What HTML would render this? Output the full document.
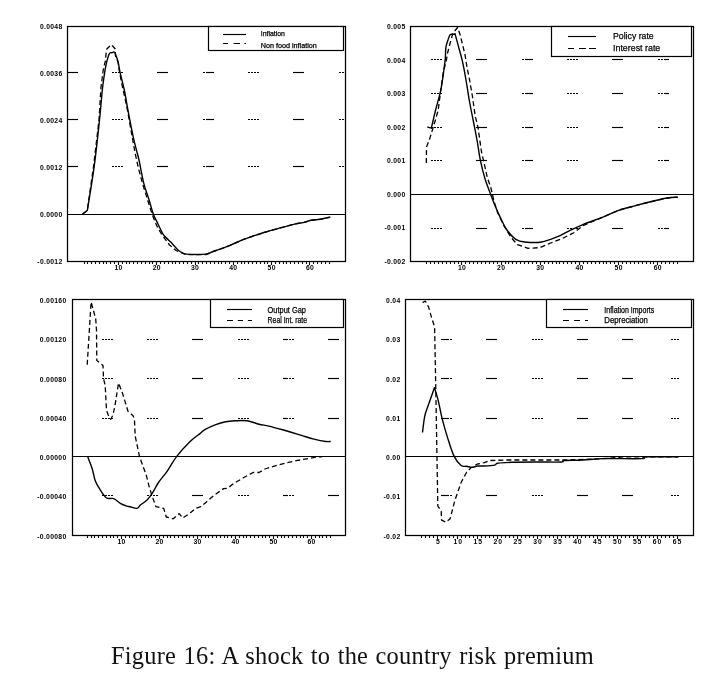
<!DOCTYPE html>
<html><head><meta charset="utf-8"><style>
html,body{margin:0;padding:0;background:#fff;}
body{width:712px;height:694px;overflow:hidden;position:relative;}
svg{position:absolute;left:0;top:0;will-change:transform;}
svg line, svg rect, svg polyline, svg path{stroke:#000;}
text{font-family:"Liberation Sans",sans-serif;fill:#000;stroke:none;}
.ax{font-weight:bold;letter-spacing:0.3px;}
.ax4{font-weight:bold;letter-spacing:0.9px;}
.lg{stroke:#000;stroke-width:0.25px;}
.cap{position:absolute;left:111.2px;top:643px;font-family:"Liberation Serif",serif;font-size:24.4px;letter-spacing:0.25px;word-spacing:1px;color:#111;white-space:nowrap;line-height:26px;will-change:transform;}
</style></head><body>
<svg width="712" height="694" viewBox="0 0 712 694" shape-rendering="geometricPrecision">
<rect x="67.5" y="26.5" width="278" height="235" fill="none" stroke-width="1.25"/>
<line x1="67.5" y1="214.5" x2="345.5" y2="214.5" stroke-width="1.1"/>
<line x1="67.5" y1="72.5" x2="78" y2="72.5" stroke-width="1.15"/>
<line x1="112" y1="72.5" x2="114" y2="72.5" stroke-width="1.15"/>
<line x1="115" y1="72.5" x2="117" y2="72.5" stroke-width="1.15"/>
<line x1="118" y1="72.5" x2="120" y2="72.5" stroke-width="1.15"/>
<line x1="121" y1="72.5" x2="123" y2="72.5" stroke-width="1.15"/>
<line x1="157" y1="72.5" x2="168" y2="72.5" stroke-width="1.15"/>
<line x1="203" y1="72.5" x2="205" y2="72.5" stroke-width="1.15"/>
<line x1="206" y1="72.5" x2="214" y2="72.5" stroke-width="1.15"/>
<line x1="248" y1="72.5" x2="250" y2="72.5" stroke-width="1.15"/>
<line x1="251" y1="72.5" x2="253" y2="72.5" stroke-width="1.15"/>
<line x1="254" y1="72.5" x2="256" y2="72.5" stroke-width="1.15"/>
<line x1="257" y1="72.5" x2="259" y2="72.5" stroke-width="1.15"/>
<line x1="293" y1="72.5" x2="304" y2="72.5" stroke-width="1.15"/>
<line x1="339" y1="72.5" x2="341" y2="72.5" stroke-width="1.15"/>
<line x1="342" y1="72.5" x2="344" y2="72.5" stroke-width="1.15"/>
<line x1="67.5" y1="119.5" x2="78" y2="119.5" stroke-width="1.15"/>
<line x1="112" y1="119.5" x2="114" y2="119.5" stroke-width="1.15"/>
<line x1="115" y1="119.5" x2="117" y2="119.5" stroke-width="1.15"/>
<line x1="118" y1="119.5" x2="120" y2="119.5" stroke-width="1.15"/>
<line x1="121" y1="119.5" x2="123" y2="119.5" stroke-width="1.15"/>
<line x1="157" y1="119.5" x2="168" y2="119.5" stroke-width="1.15"/>
<line x1="203" y1="119.5" x2="205" y2="119.5" stroke-width="1.15"/>
<line x1="206" y1="119.5" x2="214" y2="119.5" stroke-width="1.15"/>
<line x1="248" y1="119.5" x2="250" y2="119.5" stroke-width="1.15"/>
<line x1="251" y1="119.5" x2="253" y2="119.5" stroke-width="1.15"/>
<line x1="254" y1="119.5" x2="256" y2="119.5" stroke-width="1.15"/>
<line x1="257" y1="119.5" x2="259" y2="119.5" stroke-width="1.15"/>
<line x1="293" y1="119.5" x2="304" y2="119.5" stroke-width="1.15"/>
<line x1="339" y1="119.5" x2="341" y2="119.5" stroke-width="1.15"/>
<line x1="342" y1="119.5" x2="344" y2="119.5" stroke-width="1.15"/>
<line x1="67.5" y1="166.5" x2="78" y2="166.5" stroke-width="1.15"/>
<line x1="112" y1="166.5" x2="114" y2="166.5" stroke-width="1.15"/>
<line x1="115" y1="166.5" x2="117" y2="166.5" stroke-width="1.15"/>
<line x1="118" y1="166.5" x2="120" y2="166.5" stroke-width="1.15"/>
<line x1="121" y1="166.5" x2="123" y2="166.5" stroke-width="1.15"/>
<line x1="157" y1="166.5" x2="168" y2="166.5" stroke-width="1.15"/>
<line x1="203" y1="166.5" x2="205" y2="166.5" stroke-width="1.15"/>
<line x1="206" y1="166.5" x2="214" y2="166.5" stroke-width="1.15"/>
<line x1="248" y1="166.5" x2="250" y2="166.5" stroke-width="1.15"/>
<line x1="251" y1="166.5" x2="253" y2="166.5" stroke-width="1.15"/>
<line x1="254" y1="166.5" x2="256" y2="166.5" stroke-width="1.15"/>
<line x1="257" y1="166.5" x2="259" y2="166.5" stroke-width="1.15"/>
<line x1="293" y1="166.5" x2="304" y2="166.5" stroke-width="1.15"/>
<line x1="339" y1="166.5" x2="341" y2="166.5" stroke-width="1.15"/>
<line x1="342" y1="166.5" x2="344" y2="166.5" stroke-width="1.15"/>
<text x="62.5" y="29" font-size="6.8" text-anchor="end" class="ax">0.0048</text>
<text x="62.5" y="75.95" font-size="6.8" text-anchor="end" class="ax">0.0036</text>
<text x="62.5" y="122.9" font-size="6.8" text-anchor="end" class="ax">0.0024</text>
<text x="62.5" y="169.85" font-size="6.8" text-anchor="end" class="ax">0.0012</text>
<text x="62.5" y="216.8" font-size="6.8" text-anchor="end" class="ax">0.0000</text>
<text x="62.5" y="263.75" font-size="6.8" text-anchor="end" class="ax">-0.0012</text>
<line x1="84.5" y1="262.1" x2="84.5" y2="264" stroke-width="1.1"/>
<line x1="87.5" y1="262.1" x2="87.5" y2="264" stroke-width="1.1"/>
<line x1="91.5" y1="262.1" x2="91.5" y2="264" stroke-width="1.1"/>
<line x1="95.5" y1="262.1" x2="95.5" y2="264" stroke-width="1.1"/>
<line x1="99.5" y1="262.1" x2="99.5" y2="264" stroke-width="1.1"/>
<line x1="103.5" y1="262.1" x2="103.5" y2="264" stroke-width="1.1"/>
<line x1="106.5" y1="262.1" x2="106.5" y2="264" stroke-width="1.1"/>
<line x1="110.5" y1="262.1" x2="110.5" y2="264" stroke-width="1.1"/>
<line x1="114.5" y1="262.1" x2="114.5" y2="264" stroke-width="1.1"/>
<line x1="118.5" y1="262.1" x2="118.5" y2="265" stroke-width="1.1"/>
<line x1="122.5" y1="262.1" x2="122.5" y2="264" stroke-width="1.1"/>
<line x1="126.5" y1="262.1" x2="126.5" y2="264" stroke-width="1.1"/>
<line x1="129.5" y1="262.1" x2="129.5" y2="264" stroke-width="1.1"/>
<line x1="133.5" y1="262.1" x2="133.5" y2="264" stroke-width="1.1"/>
<line x1="137.5" y1="262.1" x2="137.5" y2="264" stroke-width="1.1"/>
<line x1="141.5" y1="262.1" x2="141.5" y2="264" stroke-width="1.1"/>
<line x1="145.5" y1="262.1" x2="145.5" y2="264" stroke-width="1.1"/>
<line x1="149.5" y1="262.1" x2="149.5" y2="264" stroke-width="1.1"/>
<line x1="152.5" y1="262.1" x2="152.5" y2="264" stroke-width="1.1"/>
<line x1="156.5" y1="262.1" x2="156.5" y2="265" stroke-width="1.1"/>
<line x1="160.5" y1="262.1" x2="160.5" y2="264" stroke-width="1.1"/>
<line x1="164.5" y1="262.1" x2="164.5" y2="264" stroke-width="1.1"/>
<line x1="168.5" y1="262.1" x2="168.5" y2="264" stroke-width="1.1"/>
<line x1="172.5" y1="262.1" x2="172.5" y2="264" stroke-width="1.1"/>
<line x1="175.5" y1="262.1" x2="175.5" y2="264" stroke-width="1.1"/>
<line x1="179.5" y1="262.1" x2="179.5" y2="264" stroke-width="1.1"/>
<line x1="183.5" y1="262.1" x2="183.5" y2="264" stroke-width="1.1"/>
<line x1="187.5" y1="262.1" x2="187.5" y2="264" stroke-width="1.1"/>
<line x1="191.5" y1="262.1" x2="191.5" y2="264" stroke-width="1.1"/>
<line x1="195.5" y1="262.1" x2="195.5" y2="265" stroke-width="1.1"/>
<line x1="198.5" y1="262.1" x2="198.5" y2="264" stroke-width="1.1"/>
<line x1="202.5" y1="262.1" x2="202.5" y2="264" stroke-width="1.1"/>
<line x1="206.5" y1="262.1" x2="206.5" y2="264" stroke-width="1.1"/>
<line x1="210.5" y1="262.1" x2="210.5" y2="264" stroke-width="1.1"/>
<line x1="214.5" y1="262.1" x2="214.5" y2="264" stroke-width="1.1"/>
<line x1="218.5" y1="262.1" x2="218.5" y2="264" stroke-width="1.1"/>
<line x1="221.5" y1="262.1" x2="221.5" y2="264" stroke-width="1.1"/>
<line x1="225.5" y1="262.1" x2="225.5" y2="264" stroke-width="1.1"/>
<line x1="229.5" y1="262.1" x2="229.5" y2="264" stroke-width="1.1"/>
<line x1="233.5" y1="262.1" x2="233.5" y2="265" stroke-width="1.1"/>
<line x1="237.5" y1="262.1" x2="237.5" y2="264" stroke-width="1.1"/>
<line x1="241.5" y1="262.1" x2="241.5" y2="264" stroke-width="1.1"/>
<line x1="244.5" y1="262.1" x2="244.5" y2="264" stroke-width="1.1"/>
<line x1="248.5" y1="262.1" x2="248.5" y2="264" stroke-width="1.1"/>
<line x1="252.5" y1="262.1" x2="252.5" y2="264" stroke-width="1.1"/>
<line x1="256.5" y1="262.1" x2="256.5" y2="264" stroke-width="1.1"/>
<line x1="260.5" y1="262.1" x2="260.5" y2="264" stroke-width="1.1"/>
<line x1="264.5" y1="262.1" x2="264.5" y2="264" stroke-width="1.1"/>
<line x1="267.5" y1="262.1" x2="267.5" y2="264" stroke-width="1.1"/>
<line x1="271.5" y1="262.1" x2="271.5" y2="265" stroke-width="1.1"/>
<line x1="275.5" y1="262.1" x2="275.5" y2="264" stroke-width="1.1"/>
<line x1="279.5" y1="262.1" x2="279.5" y2="264" stroke-width="1.1"/>
<line x1="283.5" y1="262.1" x2="283.5" y2="264" stroke-width="1.1"/>
<line x1="286.5" y1="262.1" x2="286.5" y2="264" stroke-width="1.1"/>
<line x1="290.5" y1="262.1" x2="290.5" y2="264" stroke-width="1.1"/>
<line x1="294.5" y1="262.1" x2="294.5" y2="264" stroke-width="1.1"/>
<line x1="298.5" y1="262.1" x2="298.5" y2="264" stroke-width="1.1"/>
<line x1="302.5" y1="262.1" x2="302.5" y2="264" stroke-width="1.1"/>
<line x1="306.5" y1="262.1" x2="306.5" y2="264" stroke-width="1.1"/>
<line x1="309.5" y1="262.1" x2="309.5" y2="265" stroke-width="1.1"/>
<line x1="313.5" y1="262.1" x2="313.5" y2="264" stroke-width="1.1"/>
<line x1="317.5" y1="262.1" x2="317.5" y2="264" stroke-width="1.1"/>
<line x1="321.5" y1="262.1" x2="321.5" y2="264" stroke-width="1.1"/>
<line x1="325.5" y1="262.1" x2="325.5" y2="264" stroke-width="1.1"/>
<line x1="329.5" y1="262.1" x2="329.5" y2="264" stroke-width="1.1"/>
<text x="118.47" y="270.2" font-size="6.8" text-anchor="middle" class="ax">10</text>
<text x="156.77" y="270.2" font-size="6.8" text-anchor="middle" class="ax">20</text>
<text x="195.07" y="270.2" font-size="6.8" text-anchor="middle" class="ax">30</text>
<text x="233.37" y="270.2" font-size="6.8" text-anchor="middle" class="ax">40</text>
<text x="271.67" y="270.2" font-size="6.8" text-anchor="middle" class="ax">50</text>
<text x="309.97" y="270.2" font-size="6.8" text-anchor="middle" class="ax">60</text>
<path d="M82.6,214 C83.38,213.42 86.52,211.08 87.3,210.5 C88.45,203.15 92.17,181.48 94.2,166.4 C96.23,151.32 98.15,132.73 99.5,120 C100.85,107.27 101.55,97.17 102.3,90 C103.05,82.83 103.38,81.17 104,77 C104.62,72.83 105.12,68.87 106,65 C106.88,61.13 108.3,55.85 109.3,53.8 C110.3,51.75 111.15,52.95 112,52.7 C112.85,52.45 113.65,51.58 114.4,52.3 C115.15,53.02 115.85,55.27 116.5,57 C117.15,58.73 117.72,60.17 118.3,62.7 C118.88,65.23 119,67.65 120,72.2 C121,76.75 123.13,84.53 124.3,90 C125.47,95.47 126.08,100 127,105 C127.92,110 128.75,114.62 129.8,120 C130.85,125.38 132.15,132.12 133.3,137.3 C134.45,142.48 135.75,147.32 136.7,151.1 C137.65,154.88 137.82,154.62 139,160 C140.18,165.38 142.12,176.73 143.8,183.4 C145.48,190.07 147.52,194.9 149.1,200 C150.68,205.1 151.82,210 153.3,214 C154.78,218 156.35,220.6 158,224 C159.65,227.4 161.53,231.82 163.2,234.4 C164.87,236.98 166.45,237.9 168,239.5 C169.55,241.1 170.92,242.35 172.5,244 C174.08,245.65 176.08,248.07 177.5,249.4 C178.92,250.73 179.53,251.22 181,252 C182.47,252.78 182.13,253.75 186.3,254.1 C190.47,254.45 201.55,254.57 206,254.1 C210.45,253.63 210.77,252.08 213,251.3 C215.23,250.52 216.57,250.38 219.4,249.4 C222.23,248.42 226.08,247.02 230,245.4 C233.92,243.78 238.87,241.32 242.9,239.7 C246.93,238.08 250.7,236.9 254.2,235.7 C257.7,234.5 259.85,233.72 263.9,232.5 C267.95,231.28 273.38,229.8 278.5,228.4 C283.62,227 290.3,225.1 294.6,224.1 C298.9,223.1 301.6,223.03 304.3,222.4 C307,221.77 308.1,220.83 310.8,220.3 C313.5,219.77 317.27,219.73 320.5,219.2 C323.73,218.67 328.58,217.45 330.2,217.1" fill="none" stroke-width="1.4" stroke-linejoin="round"/>
<path d="M82.6,214 L87.3,210.5 L93.6,166 L99,120 L101,87 L102.3,77 L103.2,70 L105.4,61 L106.2,52 L106.8,49 L109.3,46.5 L111,44.6 L113.1,46.5 L115.3,49 L115.5,56 L118,62 L119.5,72 L122.7,88 L126.5,105 L129.2,120 L133.8,146 L135.2,153.4 L138.4,168.3 L143,185 L152,214 L155.4,222.5 L157.6,227.4 L161.8,234.4 L169.5,245 L176,250.5 L186.3,254.6 L206,254.6 L213,251.6 L219.4,249.4 L230,245.4 L242.9,239.7 L254.2,235.7 L263.9,232.5 L278.5,228.4 L294.6,224.1 L304.3,222.4 L310.8,220.3 L320.5,219.2 L330.2,217.1" fill="none" stroke-width="1.3" stroke-linejoin="round" stroke-dasharray="5 3"/>
<rect x="208.5" y="26.5" width="135" height="24" fill="#fff" stroke-width="1.2"/>
<line x1="223" y1="34.5" x2="246" y2="34.5" stroke-width="1.15"/>
<line x1="223" y1="43.5" x2="246" y2="43.5" stroke-width="1.15" stroke-dasharray="5 5.5 6.5 4.5 2 10"/>
<text x="260.8" y="36.2" font-size="6.9" text-anchor="start" class="lg" textLength="24" lengthAdjust="spacingAndGlyphs">Inflation</text>
<text x="260.8" y="47.8" font-size="6.9" text-anchor="start" class="lg" textLength="56" lengthAdjust="spacingAndGlyphs">Non food inflation</text>
<rect x="410.5" y="26.5" width="283" height="235" fill="none" stroke-width="1.25"/>
<line x1="410.5" y1="194.5" x2="693.5" y2="194.5" stroke-width="1.1"/>
<line x1="431" y1="59.5" x2="433" y2="59.5" stroke-width="1.15"/>
<line x1="434" y1="59.5" x2="436" y2="59.5" stroke-width="1.15"/>
<line x1="437" y1="59.5" x2="439" y2="59.5" stroke-width="1.15"/>
<line x1="440" y1="59.5" x2="442" y2="59.5" stroke-width="1.15"/>
<line x1="476" y1="59.5" x2="487" y2="59.5" stroke-width="1.15"/>
<line x1="522" y1="59.5" x2="524" y2="59.5" stroke-width="1.15"/>
<line x1="525" y1="59.5" x2="533" y2="59.5" stroke-width="1.15"/>
<line x1="567" y1="59.5" x2="569" y2="59.5" stroke-width="1.15"/>
<line x1="570" y1="59.5" x2="572" y2="59.5" stroke-width="1.15"/>
<line x1="573" y1="59.5" x2="575" y2="59.5" stroke-width="1.15"/>
<line x1="576" y1="59.5" x2="578" y2="59.5" stroke-width="1.15"/>
<line x1="612" y1="59.5" x2="623" y2="59.5" stroke-width="1.15"/>
<line x1="658" y1="59.5" x2="660" y2="59.5" stroke-width="1.15"/>
<line x1="661" y1="59.5" x2="663" y2="59.5" stroke-width="1.15"/>
<line x1="664" y1="59.5" x2="669" y2="59.5" stroke-width="1.15"/>
<line x1="431" y1="93.5" x2="433" y2="93.5" stroke-width="1.15"/>
<line x1="434" y1="93.5" x2="436" y2="93.5" stroke-width="1.15"/>
<line x1="437" y1="93.5" x2="439" y2="93.5" stroke-width="1.15"/>
<line x1="440" y1="93.5" x2="442" y2="93.5" stroke-width="1.15"/>
<line x1="476" y1="93.5" x2="487" y2="93.5" stroke-width="1.15"/>
<line x1="522" y1="93.5" x2="524" y2="93.5" stroke-width="1.15"/>
<line x1="525" y1="93.5" x2="533" y2="93.5" stroke-width="1.15"/>
<line x1="567" y1="93.5" x2="569" y2="93.5" stroke-width="1.15"/>
<line x1="570" y1="93.5" x2="572" y2="93.5" stroke-width="1.15"/>
<line x1="573" y1="93.5" x2="575" y2="93.5" stroke-width="1.15"/>
<line x1="576" y1="93.5" x2="578" y2="93.5" stroke-width="1.15"/>
<line x1="612" y1="93.5" x2="623" y2="93.5" stroke-width="1.15"/>
<line x1="658" y1="93.5" x2="660" y2="93.5" stroke-width="1.15"/>
<line x1="661" y1="93.5" x2="663" y2="93.5" stroke-width="1.15"/>
<line x1="664" y1="93.5" x2="669" y2="93.5" stroke-width="1.15"/>
<line x1="431" y1="127.5" x2="433" y2="127.5" stroke-width="1.15"/>
<line x1="434" y1="127.5" x2="436" y2="127.5" stroke-width="1.15"/>
<line x1="437" y1="127.5" x2="439" y2="127.5" stroke-width="1.15"/>
<line x1="440" y1="127.5" x2="442" y2="127.5" stroke-width="1.15"/>
<line x1="476" y1="127.5" x2="487" y2="127.5" stroke-width="1.15"/>
<line x1="522" y1="127.5" x2="524" y2="127.5" stroke-width="1.15"/>
<line x1="525" y1="127.5" x2="533" y2="127.5" stroke-width="1.15"/>
<line x1="567" y1="127.5" x2="569" y2="127.5" stroke-width="1.15"/>
<line x1="570" y1="127.5" x2="572" y2="127.5" stroke-width="1.15"/>
<line x1="573" y1="127.5" x2="575" y2="127.5" stroke-width="1.15"/>
<line x1="576" y1="127.5" x2="578" y2="127.5" stroke-width="1.15"/>
<line x1="612" y1="127.5" x2="623" y2="127.5" stroke-width="1.15"/>
<line x1="658" y1="127.5" x2="660" y2="127.5" stroke-width="1.15"/>
<line x1="661" y1="127.5" x2="663" y2="127.5" stroke-width="1.15"/>
<line x1="664" y1="127.5" x2="669" y2="127.5" stroke-width="1.15"/>
<line x1="431" y1="160.5" x2="433" y2="160.5" stroke-width="1.15"/>
<line x1="434" y1="160.5" x2="436" y2="160.5" stroke-width="1.15"/>
<line x1="437" y1="160.5" x2="439" y2="160.5" stroke-width="1.15"/>
<line x1="440" y1="160.5" x2="442" y2="160.5" stroke-width="1.15"/>
<line x1="476" y1="160.5" x2="487" y2="160.5" stroke-width="1.15"/>
<line x1="522" y1="160.5" x2="524" y2="160.5" stroke-width="1.15"/>
<line x1="525" y1="160.5" x2="533" y2="160.5" stroke-width="1.15"/>
<line x1="567" y1="160.5" x2="569" y2="160.5" stroke-width="1.15"/>
<line x1="570" y1="160.5" x2="572" y2="160.5" stroke-width="1.15"/>
<line x1="573" y1="160.5" x2="575" y2="160.5" stroke-width="1.15"/>
<line x1="576" y1="160.5" x2="578" y2="160.5" stroke-width="1.15"/>
<line x1="612" y1="160.5" x2="623" y2="160.5" stroke-width="1.15"/>
<line x1="658" y1="160.5" x2="660" y2="160.5" stroke-width="1.15"/>
<line x1="661" y1="160.5" x2="663" y2="160.5" stroke-width="1.15"/>
<line x1="664" y1="160.5" x2="669" y2="160.5" stroke-width="1.15"/>
<line x1="431" y1="228.5" x2="433" y2="228.5" stroke-width="1.15"/>
<line x1="434" y1="228.5" x2="436" y2="228.5" stroke-width="1.15"/>
<line x1="437" y1="228.5" x2="439" y2="228.5" stroke-width="1.15"/>
<line x1="440" y1="228.5" x2="442" y2="228.5" stroke-width="1.15"/>
<line x1="476" y1="228.5" x2="487" y2="228.5" stroke-width="1.15"/>
<line x1="522" y1="228.5" x2="524" y2="228.5" stroke-width="1.15"/>
<line x1="525" y1="228.5" x2="533" y2="228.5" stroke-width="1.15"/>
<line x1="567" y1="228.5" x2="569" y2="228.5" stroke-width="1.15"/>
<line x1="570" y1="228.5" x2="572" y2="228.5" stroke-width="1.15"/>
<line x1="573" y1="228.5" x2="575" y2="228.5" stroke-width="1.15"/>
<line x1="576" y1="228.5" x2="578" y2="228.5" stroke-width="1.15"/>
<line x1="612" y1="228.5" x2="623" y2="228.5" stroke-width="1.15"/>
<line x1="658" y1="228.5" x2="660" y2="228.5" stroke-width="1.15"/>
<line x1="661" y1="228.5" x2="663" y2="228.5" stroke-width="1.15"/>
<line x1="664" y1="228.5" x2="669" y2="228.5" stroke-width="1.15"/>
<text x="405.5" y="29.25" font-size="6.8" text-anchor="end" class="ax">0.005</text>
<text x="405.5" y="62.78" font-size="6.8" text-anchor="end" class="ax">0.004</text>
<text x="405.5" y="96.31" font-size="6.8" text-anchor="end" class="ax">0.003</text>
<text x="405.5" y="129.84" font-size="6.8" text-anchor="end" class="ax">0.002</text>
<text x="405.5" y="163.37" font-size="6.8" text-anchor="end" class="ax">0.001</text>
<text x="405.5" y="196.9" font-size="6.8" text-anchor="end" class="ax">0.000</text>
<text x="405.5" y="230.43" font-size="6.8" text-anchor="end" class="ax">-0.001</text>
<text x="405.5" y="263.96" font-size="6.8" text-anchor="end" class="ax">-0.002</text>
<line x1="426.5" y1="262.1" x2="426.5" y2="264" stroke-width="1.1"/>
<line x1="430.5" y1="262.1" x2="430.5" y2="264" stroke-width="1.1"/>
<line x1="434.5" y1="262.1" x2="434.5" y2="264" stroke-width="1.1"/>
<line x1="438.5" y1="262.1" x2="438.5" y2="264" stroke-width="1.1"/>
<line x1="442.5" y1="262.1" x2="442.5" y2="264" stroke-width="1.1"/>
<line x1="446.5" y1="262.1" x2="446.5" y2="264" stroke-width="1.1"/>
<line x1="450.5" y1="262.1" x2="450.5" y2="264" stroke-width="1.1"/>
<line x1="454.5" y1="262.1" x2="454.5" y2="264" stroke-width="1.1"/>
<line x1="458.5" y1="262.1" x2="458.5" y2="264" stroke-width="1.1"/>
<line x1="461.5" y1="262.1" x2="461.5" y2="265" stroke-width="1.1"/>
<line x1="465.5" y1="262.1" x2="465.5" y2="264" stroke-width="1.1"/>
<line x1="469.5" y1="262.1" x2="469.5" y2="264" stroke-width="1.1"/>
<line x1="473.5" y1="262.1" x2="473.5" y2="264" stroke-width="1.1"/>
<line x1="477.5" y1="262.1" x2="477.5" y2="264" stroke-width="1.1"/>
<line x1="481.5" y1="262.1" x2="481.5" y2="264" stroke-width="1.1"/>
<line x1="485.5" y1="262.1" x2="485.5" y2="264" stroke-width="1.1"/>
<line x1="489.5" y1="262.1" x2="489.5" y2="264" stroke-width="1.1"/>
<line x1="493.5" y1="262.1" x2="493.5" y2="264" stroke-width="1.1"/>
<line x1="497.5" y1="262.1" x2="497.5" y2="264" stroke-width="1.1"/>
<line x1="501.5" y1="262.1" x2="501.5" y2="265" stroke-width="1.1"/>
<line x1="505.5" y1="262.1" x2="505.5" y2="264" stroke-width="1.1"/>
<line x1="508.5" y1="262.1" x2="508.5" y2="264" stroke-width="1.1"/>
<line x1="512.5" y1="262.1" x2="512.5" y2="264" stroke-width="1.1"/>
<line x1="516.5" y1="262.1" x2="516.5" y2="264" stroke-width="1.1"/>
<line x1="520.5" y1="262.1" x2="520.5" y2="264" stroke-width="1.1"/>
<line x1="524.5" y1="262.1" x2="524.5" y2="264" stroke-width="1.1"/>
<line x1="528.5" y1="262.1" x2="528.5" y2="264" stroke-width="1.1"/>
<line x1="532.5" y1="262.1" x2="532.5" y2="264" stroke-width="1.1"/>
<line x1="536.5" y1="262.1" x2="536.5" y2="264" stroke-width="1.1"/>
<line x1="540.5" y1="262.1" x2="540.5" y2="265" stroke-width="1.1"/>
<line x1="544.5" y1="262.1" x2="544.5" y2="264" stroke-width="1.1"/>
<line x1="548.5" y1="262.1" x2="548.5" y2="264" stroke-width="1.1"/>
<line x1="552.5" y1="262.1" x2="552.5" y2="264" stroke-width="1.1"/>
<line x1="556.5" y1="262.1" x2="556.5" y2="264" stroke-width="1.1"/>
<line x1="559.5" y1="262.1" x2="559.5" y2="264" stroke-width="1.1"/>
<line x1="563.5" y1="262.1" x2="563.5" y2="264" stroke-width="1.1"/>
<line x1="567.5" y1="262.1" x2="567.5" y2="264" stroke-width="1.1"/>
<line x1="571.5" y1="262.1" x2="571.5" y2="264" stroke-width="1.1"/>
<line x1="575.5" y1="262.1" x2="575.5" y2="264" stroke-width="1.1"/>
<line x1="579.5" y1="262.1" x2="579.5" y2="265" stroke-width="1.1"/>
<line x1="583.5" y1="262.1" x2="583.5" y2="264" stroke-width="1.1"/>
<line x1="587.5" y1="262.1" x2="587.5" y2="264" stroke-width="1.1"/>
<line x1="591.5" y1="262.1" x2="591.5" y2="264" stroke-width="1.1"/>
<line x1="595.5" y1="262.1" x2="595.5" y2="264" stroke-width="1.1"/>
<line x1="599.5" y1="262.1" x2="599.5" y2="264" stroke-width="1.1"/>
<line x1="603.5" y1="262.1" x2="603.5" y2="264" stroke-width="1.1"/>
<line x1="606.5" y1="262.1" x2="606.5" y2="264" stroke-width="1.1"/>
<line x1="610.5" y1="262.1" x2="610.5" y2="264" stroke-width="1.1"/>
<line x1="614.5" y1="262.1" x2="614.5" y2="264" stroke-width="1.1"/>
<line x1="618.5" y1="262.1" x2="618.5" y2="265" stroke-width="1.1"/>
<line x1="622.5" y1="262.1" x2="622.5" y2="264" stroke-width="1.1"/>
<line x1="626.5" y1="262.1" x2="626.5" y2="264" stroke-width="1.1"/>
<line x1="630.5" y1="262.1" x2="630.5" y2="264" stroke-width="1.1"/>
<line x1="634.5" y1="262.1" x2="634.5" y2="264" stroke-width="1.1"/>
<line x1="638.5" y1="262.1" x2="638.5" y2="264" stroke-width="1.1"/>
<line x1="642.5" y1="262.1" x2="642.5" y2="264" stroke-width="1.1"/>
<line x1="646.5" y1="262.1" x2="646.5" y2="264" stroke-width="1.1"/>
<line x1="650.5" y1="262.1" x2="650.5" y2="264" stroke-width="1.1"/>
<line x1="653.5" y1="262.1" x2="653.5" y2="264" stroke-width="1.1"/>
<line x1="657.5" y1="262.1" x2="657.5" y2="265" stroke-width="1.1"/>
<line x1="661.5" y1="262.1" x2="661.5" y2="264" stroke-width="1.1"/>
<line x1="665.5" y1="262.1" x2="665.5" y2="264" stroke-width="1.1"/>
<line x1="669.5" y1="262.1" x2="669.5" y2="264" stroke-width="1.1"/>
<line x1="673.5" y1="262.1" x2="673.5" y2="264" stroke-width="1.1"/>
<line x1="677.5" y1="262.1" x2="677.5" y2="264" stroke-width="1.1"/>
<text x="461.98" y="270.2" font-size="6.8" text-anchor="middle" class="ax">10</text>
<text x="501.16" y="270.2" font-size="6.8" text-anchor="middle" class="ax">20</text>
<text x="540.34" y="270.2" font-size="6.8" text-anchor="middle" class="ax">30</text>
<text x="579.52" y="270.2" font-size="6.8" text-anchor="middle" class="ax">40</text>
<text x="618.7" y="270.2" font-size="6.8" text-anchor="middle" class="ax">50</text>
<text x="657.88" y="270.2" font-size="6.8" text-anchor="middle" class="ax">60</text>
<path d="M427.3,126.9 C427.97,127.12 430.63,127.98 431.3,128.2 C431.68,126.58 432.82,121.78 433.6,118.5 C434.38,115.22 434.88,112.85 436,108.5 C437.12,104.15 439.22,97.15 440.3,92.4 C441.38,87.65 441.88,83.9 442.5,80 C443.12,76.1 443.53,72.57 444,69 C444.47,65.43 444.98,62.22 445.3,58.6 C445.62,54.98 445.45,50.4 445.9,47.3 C446.35,44.2 447.27,42.12 448,40 C448.73,37.88 449.28,35.53 450.3,34.6 C451.32,33.67 453.32,34.57 454.1,34.4 C454.88,34.23 454.85,33.73 455,33.6 C455.55,35.65 457.07,41.3 458.3,45.9 C459.53,50.5 461.12,55.52 462.4,61.2 C463.68,66.88 464.8,73.2 466,80 C467.2,86.8 468.35,95 469.6,102 C470.85,109 472.27,115.67 473.5,122 C474.73,128.33 475.85,133.6 477,140 C478.15,146.4 479.07,153.93 480.4,160.4 C481.73,166.87 483.28,173.13 485,178.8 C486.72,184.47 488.97,189.78 490.7,194.4 C492.43,199.02 493.85,202.75 495.4,206.5 C496.95,210.25 498.08,212.98 500,216.9 C501.92,220.82 504.27,226.27 506.9,230 C509.53,233.73 512.8,237.3 515.8,239.3 C518.8,241.3 520.6,241.55 524.9,242 C529.2,242.45 536.15,242.9 541.6,242 C547.05,241.1 553.17,238.38 557.6,236.6 C562.03,234.82 563.98,233.3 568.2,231.3 C572.42,229.3 576.93,227.05 582.9,224.6 C588.87,222.15 598.03,218.98 604,216.6 C609.97,214.22 613.43,212.13 618.7,210.3 C623.97,208.47 629.63,207.18 635.6,205.6 C641.57,204.02 649.23,202.07 654.5,200.8 C659.77,199.53 663.33,198.6 667.2,198 C671.07,197.4 675.95,197.33 677.7,197.2" fill="none" stroke-width="1.4" stroke-linejoin="round"/>
<path d="M426.3,163 L426.5,147 L429.4,139.8 L432,131.2 L435.4,120 L438.2,110 L440.8,90 L443.3,72.5 L446.4,60 L447.7,52.5 L450.3,42.5 L453,33 L457.6,27.5 L460.2,35 L462.4,44 L465,54.6 L467.1,68 L469.3,78.5 L472.3,95.5 L475.2,116 L478,127.3 L481.5,152 L485.6,169.6 L487.3,177.7 L490.7,187 L494.2,202 L497.7,212.8 L504,226 L511.3,237.7 L517.4,244.6 L528,248.3 L540,247.6 L550.6,243 L561.9,238.7 L574.5,232.4 L582.9,225.6 L604,216.6 L618.7,210.3 L635.6,205.6 L654.5,200.8 L667.2,198 L677.7,197.2" fill="none" stroke-width="1.3" stroke-linejoin="round" stroke-dasharray="5 3"/>
<rect x="551.5" y="26.5" width="140" height="30" fill="#fff" stroke-width="1.2"/>
<line x1="568" y1="36.5" x2="596" y2="36.5" stroke-width="1.15"/>
<line x1="568" y1="48.5" x2="596" y2="48.5" stroke-width="1.15" stroke-dasharray="6 5 7 3 7 10"/>
<text x="613" y="38.9" font-size="9.8" text-anchor="start" class="lg" textLength="40.7" lengthAdjust="spacingAndGlyphs">Policy rate</text>
<text x="613" y="50.9" font-size="9.8" text-anchor="start" class="lg" textLength="47.3" lengthAdjust="spacingAndGlyphs">Interest rate</text>
<rect x="72.5" y="299.5" width="273" height="236" fill="none" stroke-width="1.25"/>
<line x1="72.5" y1="456.5" x2="345.5" y2="456.5" stroke-width="1.1"/>
<line x1="102" y1="339.5" x2="104" y2="339.5" stroke-width="1.15"/>
<line x1="105" y1="339.5" x2="107" y2="339.5" stroke-width="1.15"/>
<line x1="108" y1="339.5" x2="110" y2="339.5" stroke-width="1.15"/>
<line x1="111" y1="339.5" x2="113" y2="339.5" stroke-width="1.15"/>
<line x1="147" y1="339.5" x2="149" y2="339.5" stroke-width="1.15"/>
<line x1="150" y1="339.5" x2="152" y2="339.5" stroke-width="1.15"/>
<line x1="153" y1="339.5" x2="155" y2="339.5" stroke-width="1.15"/>
<line x1="156" y1="339.5" x2="158" y2="339.5" stroke-width="1.15"/>
<line x1="192" y1="339.5" x2="203" y2="339.5" stroke-width="1.15"/>
<line x1="238" y1="339.5" x2="240" y2="339.5" stroke-width="1.15"/>
<line x1="241" y1="339.5" x2="243" y2="339.5" stroke-width="1.15"/>
<line x1="244" y1="339.5" x2="246" y2="339.5" stroke-width="1.15"/>
<line x1="247" y1="339.5" x2="249" y2="339.5" stroke-width="1.15"/>
<line x1="283" y1="339.5" x2="288" y2="339.5" stroke-width="1.15"/>
<line x1="289" y1="339.5" x2="291" y2="339.5" stroke-width="1.15"/>
<line x1="292" y1="339.5" x2="294" y2="339.5" stroke-width="1.15"/>
<line x1="328" y1="339.5" x2="339" y2="339.5" stroke-width="1.15"/>
<line x1="102" y1="378.5" x2="104" y2="378.5" stroke-width="1.15"/>
<line x1="105" y1="378.5" x2="107" y2="378.5" stroke-width="1.15"/>
<line x1="108" y1="378.5" x2="110" y2="378.5" stroke-width="1.15"/>
<line x1="111" y1="378.5" x2="113" y2="378.5" stroke-width="1.15"/>
<line x1="147" y1="378.5" x2="149" y2="378.5" stroke-width="1.15"/>
<line x1="150" y1="378.5" x2="152" y2="378.5" stroke-width="1.15"/>
<line x1="153" y1="378.5" x2="155" y2="378.5" stroke-width="1.15"/>
<line x1="156" y1="378.5" x2="158" y2="378.5" stroke-width="1.15"/>
<line x1="192" y1="378.5" x2="203" y2="378.5" stroke-width="1.15"/>
<line x1="238" y1="378.5" x2="240" y2="378.5" stroke-width="1.15"/>
<line x1="241" y1="378.5" x2="243" y2="378.5" stroke-width="1.15"/>
<line x1="244" y1="378.5" x2="246" y2="378.5" stroke-width="1.15"/>
<line x1="247" y1="378.5" x2="249" y2="378.5" stroke-width="1.15"/>
<line x1="283" y1="378.5" x2="288" y2="378.5" stroke-width="1.15"/>
<line x1="289" y1="378.5" x2="291" y2="378.5" stroke-width="1.15"/>
<line x1="292" y1="378.5" x2="294" y2="378.5" stroke-width="1.15"/>
<line x1="328" y1="378.5" x2="339" y2="378.5" stroke-width="1.15"/>
<line x1="102" y1="418.5" x2="104" y2="418.5" stroke-width="1.15"/>
<line x1="105" y1="418.5" x2="107" y2="418.5" stroke-width="1.15"/>
<line x1="108" y1="418.5" x2="110" y2="418.5" stroke-width="1.15"/>
<line x1="111" y1="418.5" x2="113" y2="418.5" stroke-width="1.15"/>
<line x1="147" y1="418.5" x2="149" y2="418.5" stroke-width="1.15"/>
<line x1="150" y1="418.5" x2="152" y2="418.5" stroke-width="1.15"/>
<line x1="153" y1="418.5" x2="155" y2="418.5" stroke-width="1.15"/>
<line x1="156" y1="418.5" x2="158" y2="418.5" stroke-width="1.15"/>
<line x1="192" y1="418.5" x2="203" y2="418.5" stroke-width="1.15"/>
<line x1="238" y1="418.5" x2="240" y2="418.5" stroke-width="1.15"/>
<line x1="241" y1="418.5" x2="243" y2="418.5" stroke-width="1.15"/>
<line x1="244" y1="418.5" x2="246" y2="418.5" stroke-width="1.15"/>
<line x1="247" y1="418.5" x2="249" y2="418.5" stroke-width="1.15"/>
<line x1="283" y1="418.5" x2="288" y2="418.5" stroke-width="1.15"/>
<line x1="289" y1="418.5" x2="291" y2="418.5" stroke-width="1.15"/>
<line x1="292" y1="418.5" x2="294" y2="418.5" stroke-width="1.15"/>
<line x1="328" y1="418.5" x2="339" y2="418.5" stroke-width="1.15"/>
<line x1="102" y1="495.5" x2="104" y2="495.5" stroke-width="1.15"/>
<line x1="105" y1="495.5" x2="107" y2="495.5" stroke-width="1.15"/>
<line x1="108" y1="495.5" x2="110" y2="495.5" stroke-width="1.15"/>
<line x1="111" y1="495.5" x2="113" y2="495.5" stroke-width="1.15"/>
<line x1="147" y1="495.5" x2="149" y2="495.5" stroke-width="1.15"/>
<line x1="150" y1="495.5" x2="152" y2="495.5" stroke-width="1.15"/>
<line x1="153" y1="495.5" x2="155" y2="495.5" stroke-width="1.15"/>
<line x1="156" y1="495.5" x2="158" y2="495.5" stroke-width="1.15"/>
<line x1="192" y1="495.5" x2="203" y2="495.5" stroke-width="1.15"/>
<line x1="238" y1="495.5" x2="240" y2="495.5" stroke-width="1.15"/>
<line x1="241" y1="495.5" x2="243" y2="495.5" stroke-width="1.15"/>
<line x1="244" y1="495.5" x2="246" y2="495.5" stroke-width="1.15"/>
<line x1="247" y1="495.5" x2="249" y2="495.5" stroke-width="1.15"/>
<line x1="283" y1="495.5" x2="288" y2="495.5" stroke-width="1.15"/>
<line x1="289" y1="495.5" x2="291" y2="495.5" stroke-width="1.15"/>
<line x1="292" y1="495.5" x2="294" y2="495.5" stroke-width="1.15"/>
<line x1="328" y1="495.5" x2="339" y2="495.5" stroke-width="1.15"/>
<text x="66.5" y="303.12" font-size="6.8" text-anchor="end" class="ax">0.00160</text>
<text x="66.5" y="342.39" font-size="6.8" text-anchor="end" class="ax">0.00120</text>
<text x="66.5" y="381.66" font-size="6.8" text-anchor="end" class="ax">0.00080</text>
<text x="66.5" y="420.93" font-size="6.8" text-anchor="end" class="ax">0.00040</text>
<text x="66.5" y="460.2" font-size="6.8" text-anchor="end" class="ax">0.00000</text>
<text x="66.5" y="499.47" font-size="6.8" text-anchor="end" class="ax">-0.00040</text>
<text x="66.5" y="538.74" font-size="6.8" text-anchor="end" class="ax">-0.00080</text>
<line x1="87.5" y1="536.1" x2="87.5" y2="538" stroke-width="1.1"/>
<line x1="91.5" y1="536.1" x2="91.5" y2="538" stroke-width="1.1"/>
<line x1="94.5" y1="536.1" x2="94.5" y2="538" stroke-width="1.1"/>
<line x1="98.5" y1="536.1" x2="98.5" y2="538" stroke-width="1.1"/>
<line x1="102.5" y1="536.1" x2="102.5" y2="538" stroke-width="1.1"/>
<line x1="106.5" y1="536.1" x2="106.5" y2="538" stroke-width="1.1"/>
<line x1="110.5" y1="536.1" x2="110.5" y2="538" stroke-width="1.1"/>
<line x1="113.5" y1="536.1" x2="113.5" y2="538" stroke-width="1.1"/>
<line x1="117.5" y1="536.1" x2="117.5" y2="538" stroke-width="1.1"/>
<line x1="121.5" y1="536.1" x2="121.5" y2="539" stroke-width="1.1"/>
<line x1="125.5" y1="536.1" x2="125.5" y2="538" stroke-width="1.1"/>
<line x1="129.5" y1="536.1" x2="129.5" y2="538" stroke-width="1.1"/>
<line x1="132.5" y1="536.1" x2="132.5" y2="538" stroke-width="1.1"/>
<line x1="136.5" y1="536.1" x2="136.5" y2="538" stroke-width="1.1"/>
<line x1="140.5" y1="536.1" x2="140.5" y2="538" stroke-width="1.1"/>
<line x1="144.5" y1="536.1" x2="144.5" y2="538" stroke-width="1.1"/>
<line x1="148.5" y1="536.1" x2="148.5" y2="538" stroke-width="1.1"/>
<line x1="151.5" y1="536.1" x2="151.5" y2="538" stroke-width="1.1"/>
<line x1="155.5" y1="536.1" x2="155.5" y2="538" stroke-width="1.1"/>
<line x1="159.5" y1="536.1" x2="159.5" y2="539" stroke-width="1.1"/>
<line x1="163.5" y1="536.1" x2="163.5" y2="538" stroke-width="1.1"/>
<line x1="167.5" y1="536.1" x2="167.5" y2="538" stroke-width="1.1"/>
<line x1="170.5" y1="536.1" x2="170.5" y2="538" stroke-width="1.1"/>
<line x1="174.5" y1="536.1" x2="174.5" y2="538" stroke-width="1.1"/>
<line x1="178.5" y1="536.1" x2="178.5" y2="538" stroke-width="1.1"/>
<line x1="182.5" y1="536.1" x2="182.5" y2="538" stroke-width="1.1"/>
<line x1="186.5" y1="536.1" x2="186.5" y2="538" stroke-width="1.1"/>
<line x1="189.5" y1="536.1" x2="189.5" y2="538" stroke-width="1.1"/>
<line x1="193.5" y1="536.1" x2="193.5" y2="538" stroke-width="1.1"/>
<line x1="197.5" y1="536.1" x2="197.5" y2="539" stroke-width="1.1"/>
<line x1="201.5" y1="536.1" x2="201.5" y2="538" stroke-width="1.1"/>
<line x1="205.5" y1="536.1" x2="205.5" y2="538" stroke-width="1.1"/>
<line x1="208.5" y1="536.1" x2="208.5" y2="538" stroke-width="1.1"/>
<line x1="212.5" y1="536.1" x2="212.5" y2="538" stroke-width="1.1"/>
<line x1="216.5" y1="536.1" x2="216.5" y2="538" stroke-width="1.1"/>
<line x1="220.5" y1="536.1" x2="220.5" y2="538" stroke-width="1.1"/>
<line x1="224.5" y1="536.1" x2="224.5" y2="538" stroke-width="1.1"/>
<line x1="227.5" y1="536.1" x2="227.5" y2="538" stroke-width="1.1"/>
<line x1="231.5" y1="536.1" x2="231.5" y2="538" stroke-width="1.1"/>
<line x1="235.5" y1="536.1" x2="235.5" y2="539" stroke-width="1.1"/>
<line x1="239.5" y1="536.1" x2="239.5" y2="538" stroke-width="1.1"/>
<line x1="243.5" y1="536.1" x2="243.5" y2="538" stroke-width="1.1"/>
<line x1="246.5" y1="536.1" x2="246.5" y2="538" stroke-width="1.1"/>
<line x1="250.5" y1="536.1" x2="250.5" y2="538" stroke-width="1.1"/>
<line x1="254.5" y1="536.1" x2="254.5" y2="538" stroke-width="1.1"/>
<line x1="258.5" y1="536.1" x2="258.5" y2="538" stroke-width="1.1"/>
<line x1="262.5" y1="536.1" x2="262.5" y2="538" stroke-width="1.1"/>
<line x1="265.5" y1="536.1" x2="265.5" y2="538" stroke-width="1.1"/>
<line x1="269.5" y1="536.1" x2="269.5" y2="538" stroke-width="1.1"/>
<line x1="273.5" y1="536.1" x2="273.5" y2="539" stroke-width="1.1"/>
<line x1="277.5" y1="536.1" x2="277.5" y2="538" stroke-width="1.1"/>
<line x1="281.5" y1="536.1" x2="281.5" y2="538" stroke-width="1.1"/>
<line x1="284.5" y1="536.1" x2="284.5" y2="538" stroke-width="1.1"/>
<line x1="288.5" y1="536.1" x2="288.5" y2="538" stroke-width="1.1"/>
<line x1="292.5" y1="536.1" x2="292.5" y2="538" stroke-width="1.1"/>
<line x1="296.5" y1="536.1" x2="296.5" y2="538" stroke-width="1.1"/>
<line x1="300.5" y1="536.1" x2="300.5" y2="538" stroke-width="1.1"/>
<line x1="303.5" y1="536.1" x2="303.5" y2="538" stroke-width="1.1"/>
<line x1="307.5" y1="536.1" x2="307.5" y2="538" stroke-width="1.1"/>
<line x1="311.5" y1="536.1" x2="311.5" y2="539" stroke-width="1.1"/>
<line x1="315.5" y1="536.1" x2="315.5" y2="538" stroke-width="1.1"/>
<line x1="319.5" y1="536.1" x2="319.5" y2="538" stroke-width="1.1"/>
<line x1="322.5" y1="536.1" x2="322.5" y2="538" stroke-width="1.1"/>
<line x1="326.5" y1="536.1" x2="326.5" y2="538" stroke-width="1.1"/>
<line x1="330.5" y1="536.1" x2="330.5" y2="538" stroke-width="1.1"/>
<text x="121.5" y="544" font-size="6.8" text-anchor="middle" class="ax">10</text>
<text x="159.5" y="544" font-size="6.8" text-anchor="middle" class="ax">20</text>
<text x="197.5" y="544" font-size="6.8" text-anchor="middle" class="ax">30</text>
<text x="235.5" y="544" font-size="6.8" text-anchor="middle" class="ax">40</text>
<text x="273.5" y="544" font-size="6.8" text-anchor="middle" class="ax">50</text>
<text x="311.5" y="544" font-size="6.8" text-anchor="middle" class="ax">60</text>
<path d="M87.5,456.1 C88.28,458.2 90.95,464.73 92.2,468.7 C93.45,472.67 93.92,476.78 95,479.9 C96.08,483.02 96.83,484.43 98.7,487.4 C100.57,490.37 103.7,495.83 106.2,497.7 C108.7,499.57 111.35,497.67 113.7,498.6 C116.05,499.53 118.12,502.05 120.3,503.3 C122.48,504.55 125.18,505.53 126.8,506.1 C128.42,506.67 128.32,506.32 130,506.7 C131.68,507.08 135.17,508.68 136.9,508.4 C138.63,508.12 138.67,506.43 140.4,505 C142.13,503.57 145.28,501.82 147.3,499.8 C149.32,497.78 150.63,495.78 152.5,492.9 C154.37,490.02 156.07,486.1 158.5,482.5 C160.93,478.9 164.08,475.62 167.1,471.3 C170.12,466.98 172.85,461.48 176.6,456.6 C180.35,451.72 185.7,445.83 189.6,442 C193.5,438.17 197.45,435.65 200,433.6 C202.55,431.55 202.28,431.18 204.9,429.7 C207.52,428.22 212.25,426.02 215.7,424.7 C219.15,423.38 222.32,422.45 225.6,421.8 C228.88,421.15 231.8,420.97 235.4,420.8 C239,420.63 243.27,420.23 247.2,420.8 C251.13,421.37 255.4,423.32 259,424.2 C262.6,425.08 264.87,425.18 268.8,426.1 C272.73,427.02 279,428.72 282.6,429.7 C286.2,430.68 287.13,431.02 290.4,432 C293.67,432.98 298.27,434.42 302.2,435.6 C306.13,436.78 310.07,438.12 314,439.1 C317.93,440.08 323.02,441.1 325.8,441.5 C328.58,441.9 329.88,441.5 330.7,441.5" fill="none" stroke-width="1.4" stroke-linejoin="round"/>
<path d="M87.2,364.8 L91.1,302 L95.7,318.8 L96.5,330 L96.8,360.5 L103,365.5 L103.5,378.4 L105.2,385.6 L106.5,410 L108.2,415 L110.8,419.3 L113,415 L115.1,405 L117.3,390.7 L118.6,383 L122.5,393.3 L128.1,411.5 L132.8,415.4 L134.4,418.6 L135.2,436 L139.5,456.6 L146.4,475.6 L149,486 L151.6,494.6 L155.9,506.7 L163.7,508.4 L166.3,517 L173.2,518.8 L179.2,513.6 L182.7,518 L189.6,513.6 L195.6,508.4 L200.8,506.7 L205.9,502.4 L213.8,495.5 L223.6,488.6 L227.5,488.3 L233.4,483.7 L243.3,477.8 L253.1,472.5 L259,472.5 L264.9,469 L276.7,465.4 L286.5,462.7 L296.3,460.7 L310.1,458.2 L318,456.8 L321.9,456.8" fill="none" stroke-width="1.3" stroke-linejoin="round" stroke-dasharray="5 3"/>
<rect x="210.5" y="299.5" width="133" height="28" fill="#fff" stroke-width="1.2"/>
<line x1="227" y1="309.5" x2="252" y2="309.5" stroke-width="1.15"/>
<line x1="227" y1="320.5" x2="252" y2="320.5" stroke-width="1.15" stroke-dasharray="6 4.8 5.2 4.9 4.1 10"/>
<text x="267.6" y="312.9" font-size="8.2" text-anchor="start" class="lg" textLength="38.3" lengthAdjust="spacingAndGlyphs">Output Gap</text>
<text x="267.6" y="322.9" font-size="8.2" text-anchor="start" class="lg" textLength="39.5" lengthAdjust="spacingAndGlyphs">Real Int. rate</text>
<rect x="405.5" y="299.5" width="288" height="236" fill="none" stroke-width="1.25"/>
<line x1="405.5" y1="456.5" x2="693.5" y2="456.5" stroke-width="1.1"/>
<line x1="441" y1="339.5" x2="449" y2="339.5" stroke-width="1.15"/>
<line x1="450" y1="339.5" x2="452" y2="339.5" stroke-width="1.15"/>
<line x1="486" y1="339.5" x2="497" y2="339.5" stroke-width="1.15"/>
<line x1="532" y1="339.5" x2="534" y2="339.5" stroke-width="1.15"/>
<line x1="535" y1="339.5" x2="537" y2="339.5" stroke-width="1.15"/>
<line x1="538" y1="339.5" x2="540" y2="339.5" stroke-width="1.15"/>
<line x1="541" y1="339.5" x2="543" y2="339.5" stroke-width="1.15"/>
<line x1="577" y1="339.5" x2="588" y2="339.5" stroke-width="1.15"/>
<line x1="622" y1="339.5" x2="633" y2="339.5" stroke-width="1.15"/>
<line x1="671" y1="339.5" x2="673" y2="339.5" stroke-width="1.15"/>
<line x1="674" y1="339.5" x2="676" y2="339.5" stroke-width="1.15"/>
<line x1="677" y1="339.5" x2="679" y2="339.5" stroke-width="1.15"/>
<line x1="441" y1="378.5" x2="449" y2="378.5" stroke-width="1.15"/>
<line x1="450" y1="378.5" x2="452" y2="378.5" stroke-width="1.15"/>
<line x1="486" y1="378.5" x2="497" y2="378.5" stroke-width="1.15"/>
<line x1="532" y1="378.5" x2="534" y2="378.5" stroke-width="1.15"/>
<line x1="535" y1="378.5" x2="537" y2="378.5" stroke-width="1.15"/>
<line x1="538" y1="378.5" x2="540" y2="378.5" stroke-width="1.15"/>
<line x1="541" y1="378.5" x2="543" y2="378.5" stroke-width="1.15"/>
<line x1="577" y1="378.5" x2="588" y2="378.5" stroke-width="1.15"/>
<line x1="622" y1="378.5" x2="633" y2="378.5" stroke-width="1.15"/>
<line x1="671" y1="378.5" x2="673" y2="378.5" stroke-width="1.15"/>
<line x1="674" y1="378.5" x2="676" y2="378.5" stroke-width="1.15"/>
<line x1="677" y1="378.5" x2="679" y2="378.5" stroke-width="1.15"/>
<line x1="441" y1="418.5" x2="449" y2="418.5" stroke-width="1.15"/>
<line x1="450" y1="418.5" x2="452" y2="418.5" stroke-width="1.15"/>
<line x1="486" y1="418.5" x2="497" y2="418.5" stroke-width="1.15"/>
<line x1="532" y1="418.5" x2="534" y2="418.5" stroke-width="1.15"/>
<line x1="535" y1="418.5" x2="537" y2="418.5" stroke-width="1.15"/>
<line x1="538" y1="418.5" x2="540" y2="418.5" stroke-width="1.15"/>
<line x1="541" y1="418.5" x2="543" y2="418.5" stroke-width="1.15"/>
<line x1="577" y1="418.5" x2="588" y2="418.5" stroke-width="1.15"/>
<line x1="622" y1="418.5" x2="633" y2="418.5" stroke-width="1.15"/>
<line x1="671" y1="418.5" x2="673" y2="418.5" stroke-width="1.15"/>
<line x1="674" y1="418.5" x2="676" y2="418.5" stroke-width="1.15"/>
<line x1="677" y1="418.5" x2="679" y2="418.5" stroke-width="1.15"/>
<line x1="441" y1="495.5" x2="449" y2="495.5" stroke-width="1.15"/>
<line x1="450" y1="495.5" x2="452" y2="495.5" stroke-width="1.15"/>
<line x1="486" y1="495.5" x2="497" y2="495.5" stroke-width="1.15"/>
<line x1="532" y1="495.5" x2="534" y2="495.5" stroke-width="1.15"/>
<line x1="535" y1="495.5" x2="537" y2="495.5" stroke-width="1.15"/>
<line x1="538" y1="495.5" x2="540" y2="495.5" stroke-width="1.15"/>
<line x1="541" y1="495.5" x2="543" y2="495.5" stroke-width="1.15"/>
<line x1="577" y1="495.5" x2="588" y2="495.5" stroke-width="1.15"/>
<line x1="622" y1="495.5" x2="633" y2="495.5" stroke-width="1.15"/>
<line x1="671" y1="495.5" x2="673" y2="495.5" stroke-width="1.15"/>
<line x1="674" y1="495.5" x2="676" y2="495.5" stroke-width="1.15"/>
<line x1="677" y1="495.5" x2="679" y2="495.5" stroke-width="1.15"/>
<text x="400.5" y="303.12" font-size="6.8" text-anchor="end" class="ax">0.04</text>
<text x="400.5" y="342.39" font-size="6.8" text-anchor="end" class="ax">0.03</text>
<text x="400.5" y="381.66" font-size="6.8" text-anchor="end" class="ax">0.02</text>
<text x="400.5" y="420.93" font-size="6.8" text-anchor="end" class="ax">0.01</text>
<text x="400.5" y="460.2" font-size="6.8" text-anchor="end" class="ax">0.00</text>
<text x="400.5" y="499.47" font-size="6.8" text-anchor="end" class="ax">-0.01</text>
<text x="400.5" y="538.74" font-size="6.8" text-anchor="end" class="ax">-0.02</text>
<line x1="421.5" y1="536.1" x2="421.5" y2="538" stroke-width="1.1"/>
<line x1="425.5" y1="536.1" x2="425.5" y2="538" stroke-width="1.1"/>
<line x1="429.5" y1="536.1" x2="429.5" y2="538" stroke-width="1.1"/>
<line x1="433.5" y1="536.1" x2="433.5" y2="538" stroke-width="1.1"/>
<line x1="437.5" y1="536.1" x2="437.5" y2="539" stroke-width="1.1"/>
<line x1="441.5" y1="536.1" x2="441.5" y2="538" stroke-width="1.1"/>
<line x1="445.5" y1="536.1" x2="445.5" y2="538" stroke-width="1.1"/>
<line x1="449.5" y1="536.1" x2="449.5" y2="538" stroke-width="1.1"/>
<line x1="453.5" y1="536.1" x2="453.5" y2="538" stroke-width="1.1"/>
<line x1="457.5" y1="536.1" x2="457.5" y2="539" stroke-width="1.1"/>
<line x1="461.5" y1="536.1" x2="461.5" y2="538" stroke-width="1.1"/>
<line x1="465.5" y1="536.1" x2="465.5" y2="538" stroke-width="1.1"/>
<line x1="469.5" y1="536.1" x2="469.5" y2="538" stroke-width="1.1"/>
<line x1="473.5" y1="536.1" x2="473.5" y2="538" stroke-width="1.1"/>
<line x1="477.5" y1="536.1" x2="477.5" y2="539" stroke-width="1.1"/>
<line x1="481.5" y1="536.1" x2="481.5" y2="538" stroke-width="1.1"/>
<line x1="485.5" y1="536.1" x2="485.5" y2="538" stroke-width="1.1"/>
<line x1="489.5" y1="536.1" x2="489.5" y2="538" stroke-width="1.1"/>
<line x1="493.5" y1="536.1" x2="493.5" y2="538" stroke-width="1.1"/>
<line x1="497.5" y1="536.1" x2="497.5" y2="539" stroke-width="1.1"/>
<line x1="501.5" y1="536.1" x2="501.5" y2="538" stroke-width="1.1"/>
<line x1="505.5" y1="536.1" x2="505.5" y2="538" stroke-width="1.1"/>
<line x1="509.5" y1="536.1" x2="509.5" y2="538" stroke-width="1.1"/>
<line x1="513.5" y1="536.1" x2="513.5" y2="538" stroke-width="1.1"/>
<line x1="517.5" y1="536.1" x2="517.5" y2="539" stroke-width="1.1"/>
<line x1="521.5" y1="536.1" x2="521.5" y2="538" stroke-width="1.1"/>
<line x1="525.5" y1="536.1" x2="525.5" y2="538" stroke-width="1.1"/>
<line x1="529.5" y1="536.1" x2="529.5" y2="538" stroke-width="1.1"/>
<line x1="533.5" y1="536.1" x2="533.5" y2="538" stroke-width="1.1"/>
<line x1="537.5" y1="536.1" x2="537.5" y2="539" stroke-width="1.1"/>
<line x1="541.5" y1="536.1" x2="541.5" y2="538" stroke-width="1.1"/>
<line x1="545.5" y1="536.1" x2="545.5" y2="538" stroke-width="1.1"/>
<line x1="549.5" y1="536.1" x2="549.5" y2="538" stroke-width="1.1"/>
<line x1="553.5" y1="536.1" x2="553.5" y2="538" stroke-width="1.1"/>
<line x1="557.5" y1="536.1" x2="557.5" y2="539" stroke-width="1.1"/>
<line x1="561.5" y1="536.1" x2="561.5" y2="538" stroke-width="1.1"/>
<line x1="565.5" y1="536.1" x2="565.5" y2="538" stroke-width="1.1"/>
<line x1="569.5" y1="536.1" x2="569.5" y2="538" stroke-width="1.1"/>
<line x1="573.5" y1="536.1" x2="573.5" y2="538" stroke-width="1.1"/>
<line x1="577.5" y1="536.1" x2="577.5" y2="539" stroke-width="1.1"/>
<line x1="581.5" y1="536.1" x2="581.5" y2="538" stroke-width="1.1"/>
<line x1="585.5" y1="536.1" x2="585.5" y2="538" stroke-width="1.1"/>
<line x1="589.5" y1="536.1" x2="589.5" y2="538" stroke-width="1.1"/>
<line x1="593.5" y1="536.1" x2="593.5" y2="538" stroke-width="1.1"/>
<line x1="597.5" y1="536.1" x2="597.5" y2="539" stroke-width="1.1"/>
<line x1="601.5" y1="536.1" x2="601.5" y2="538" stroke-width="1.1"/>
<line x1="605.5" y1="536.1" x2="605.5" y2="538" stroke-width="1.1"/>
<line x1="609.5" y1="536.1" x2="609.5" y2="538" stroke-width="1.1"/>
<line x1="613.5" y1="536.1" x2="613.5" y2="538" stroke-width="1.1"/>
<line x1="617.5" y1="536.1" x2="617.5" y2="539" stroke-width="1.1"/>
<line x1="621.5" y1="536.1" x2="621.5" y2="538" stroke-width="1.1"/>
<line x1="625.5" y1="536.1" x2="625.5" y2="538" stroke-width="1.1"/>
<line x1="629.5" y1="536.1" x2="629.5" y2="538" stroke-width="1.1"/>
<line x1="633.5" y1="536.1" x2="633.5" y2="538" stroke-width="1.1"/>
<line x1="637.5" y1="536.1" x2="637.5" y2="539" stroke-width="1.1"/>
<line x1="641.5" y1="536.1" x2="641.5" y2="538" stroke-width="1.1"/>
<line x1="645.5" y1="536.1" x2="645.5" y2="538" stroke-width="1.1"/>
<line x1="649.5" y1="536.1" x2="649.5" y2="538" stroke-width="1.1"/>
<line x1="653.5" y1="536.1" x2="653.5" y2="538" stroke-width="1.1"/>
<line x1="657.5" y1="536.1" x2="657.5" y2="539" stroke-width="1.1"/>
<line x1="661.5" y1="536.1" x2="661.5" y2="538" stroke-width="1.1"/>
<line x1="665.5" y1="536.1" x2="665.5" y2="538" stroke-width="1.1"/>
<line x1="669.5" y1="536.1" x2="669.5" y2="538" stroke-width="1.1"/>
<line x1="673.5" y1="536.1" x2="673.5" y2="538" stroke-width="1.1"/>
<line x1="677.5" y1="536.1" x2="677.5" y2="539" stroke-width="1.1"/>
<text x="438.38" y="544" font-size="6.8" text-anchor="middle" class="ax4">5</text>
<text x="458.3" y="544" font-size="6.8" text-anchor="middle" class="ax4">10</text>
<text x="478.22" y="544" font-size="6.8" text-anchor="middle" class="ax4">15</text>
<text x="498.15" y="544" font-size="6.8" text-anchor="middle" class="ax4">20</text>
<text x="518.08" y="544" font-size="6.8" text-anchor="middle" class="ax4">25</text>
<text x="538" y="544" font-size="6.8" text-anchor="middle" class="ax4">30</text>
<text x="557.93" y="544" font-size="6.8" text-anchor="middle" class="ax4">35</text>
<text x="577.85" y="544" font-size="6.8" text-anchor="middle" class="ax4">40</text>
<text x="597.78" y="544" font-size="6.8" text-anchor="middle" class="ax4">45</text>
<text x="617.7" y="544" font-size="6.8" text-anchor="middle" class="ax4">50</text>
<text x="637.62" y="544" font-size="6.8" text-anchor="middle" class="ax4">55</text>
<text x="657.55" y="544" font-size="6.8" text-anchor="middle" class="ax4">60</text>
<text x="677.48" y="544" font-size="6.8" text-anchor="middle" class="ax4">65</text>
<path d="M422.5,432.5 C422.87,429.8 423.78,420.72 424.7,416.3 C425.62,411.88 426.92,409.23 428,406 C429.08,402.77 430.12,399.97 431.2,396.9 C432.28,393.83 433.95,389.15 434.5,387.6 C435.13,389.8 437.02,395.58 438.3,400.8 C439.58,406.02 440.68,412.85 442.2,418.9 C443.72,424.95 445.45,430.93 447.4,437.1 C449.35,443.27 451.62,451.17 453.9,455.9 C456.18,460.63 458.98,463.77 461.1,465.5 C463.22,467.23 464.78,465.98 466.6,466.3 C468.42,466.62 470.18,467.45 472,467.4 C473.82,467.35 475.43,466.23 477.5,466 C479.57,465.77 481.55,466.15 484.4,466 C487.25,465.85 492.38,465.57 494.6,465.1 C496.82,464.63 494.87,463.67 497.7,463.2 C500.53,462.73 505.15,462.5 511.6,462.3 C518.05,462.1 528.15,462.05 536.4,462 C544.65,461.95 556.47,462.25 561.1,462 C565.73,461.75 560.6,460.83 564.2,460.5 C567.8,460.17 576.18,460.32 582.7,460 C589.22,459.68 593.48,458.83 603.3,458.6 C613.12,458.37 634.6,458.9 641.6,458.6 C648.6,458.3 639.15,457.1 645.3,456.8 C651.45,456.5 672.97,456.8 678.5,456.8" fill="none" stroke-width="1.4" stroke-linejoin="round"/>
<path d="M422.6,302.6 L425.3,301 L428.6,307.1 L431.6,317.7 L434.6,326.8 L436,400 L437.8,505.8 L441.2,511.2 L441.6,520.1 L446,522.2 L450.1,518.8 L454.9,500.3 L461.1,482.5 L466.6,472.2 L471.4,467.4 L477.5,464 L484.4,462.6 L490,460.5 L505.5,460 L567.3,460 L600,458.9 L625.4,456.8 L678.5,456.8" fill="none" stroke-width="1.3" stroke-linejoin="round" stroke-dasharray="5 3"/>
<rect x="546.5" y="299.5" width="145" height="28" fill="#fff" stroke-width="1.2"/>
<line x1="563" y1="309.5" x2="588" y2="309.5" stroke-width="1.15"/>
<line x1="563" y1="320.5" x2="588" y2="320.5" stroke-width="1.15" stroke-dasharray="6 5 6 5 3 10"/>
<text x="604.3" y="313.1" font-size="8.2" text-anchor="start" class="lg" textLength="49.9" lengthAdjust="spacingAndGlyphs">Inflation Imports</text>
<text x="604.3" y="323.1" font-size="8.2" text-anchor="start" class="lg" textLength="43.6" lengthAdjust="spacingAndGlyphs">Depreciation</text>
</svg>
<div class="cap" id="cap">Figure 16: A shock to the country risk premium</div>
</body></html>
